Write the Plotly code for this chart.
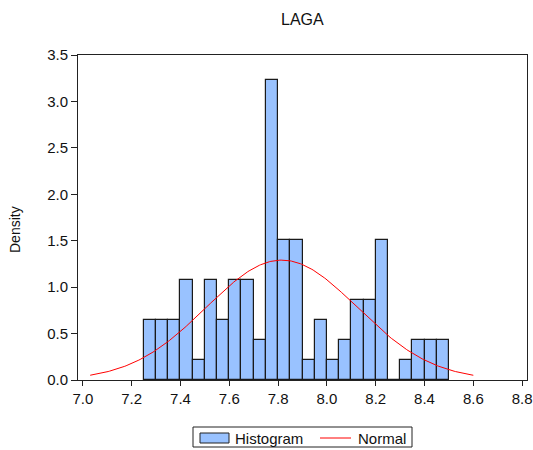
import numpy as np
import plotly.graph_objects as go

# Histogram bins (width 0.05) and observation counts per bin
bin_width = 0.05
bin_left = [7.25, 7.30, 7.35, 7.40, 7.45, 7.50, 7.55, 7.60, 7.65, 7.70,
            7.75, 7.80, 7.85, 7.90, 7.95, 8.00, 8.05, 8.10, 8.15, 8.20,
            8.25, 8.30, 8.35, 8.40, 8.45]
counts = [3, 3, 3, 5, 1, 5, 3, 5, 5, 2,
          15, 7, 7, 1, 3, 1, 2, 4, 4, 7,
          0, 1, 2, 2, 2]

# Fitted normal density parameters
norm_mean = 7.815
norm_sd = 0.309
norm_range = (7.03, 8.60)

x_ticks = [7.0, 7.2, 7.4, 7.6, 7.8, 8.0, 8.2, 8.4, 8.6, 8.8]
y_ticks = [0.0, 0.5, 1.0, 1.5, 2.0, 2.5, 3.0, 3.5]

BAR_COLOR = "rgb(153,194,255)"
LINE_COLOR = "#ff0000"
INK = "#111111"
FAMILY = "Liberation Sans, Arial, sans-serif"

n_obs = sum(counts)
centers = [b + bin_width / 2 for b in bin_left]
density = [c / (n_obs * bin_width) for c in counts]

xs = np.linspace(norm_range[0], norm_range[1], 300)
pdf = np.exp(-0.5 * ((xs - norm_mean) / norm_sd) ** 2) / (norm_sd * np.sqrt(2 * np.pi))

W, H = 533, 450
ML, MR, MT, MB = 78, 6, 55, 70
PW, PH = W - ML - MR, H - MT - MB


def px(x):
    """Pixel column -> paper x."""
    return (x - ML) / PW


def py(y):
    """Pixel row -> paper y."""
    return (H - MB - y) / PH


fig = go.Figure()
fig.add_trace(go.Bar(
    x=centers, y=density, width=bin_width, name="Histogram",
    marker=dict(color=BAR_COLOR, line=dict(color="#1a1a1a", width=1.2)),
    showlegend=False,
))
fig.add_trace(go.Scatter(
    x=xs, y=pdf, mode="lines", name="Normal",
    line=dict(color=LINE_COLOR, width=1), showlegend=False,
))

# Boxed legend below the plot
shapes = [
    dict(type="rect", xref="paper", yref="paper", x0=px(193), x1=px(412), y0=py(447), y1=py(427),
         line=dict(color="#222222", width=1), fillcolor="white", layer="above"),
    dict(type="rect", xref="paper", yref="paper", x0=px(200), x1=px(229), y0=py(443), y1=py(433),
         line=dict(color="#222222", width=1), fillcolor=BAR_COLOR, layer="above"),
    dict(type="line", xref="paper", yref="paper", x0=px(320), x1=px(351), y0=py(438), y1=py(438),
         line=dict(color=LINE_COLOR, width=1), layer="above"),
]
annotations = [
    dict(text="Histogram", xref="paper", yref="paper", x=px(233), y=py(438), xanchor="left",
         yanchor="middle", showarrow=False, font=dict(size=15, family=FAMILY, color=INK)),
    dict(text="Normal", xref="paper", yref="paper", x=px(356), y=py(438), xanchor="left",
         yanchor="middle", showarrow=False, font=dict(size=15, family=FAMILY, color=INK)),
    dict(text="Density", xref="paper", yref="paper", x=px(15), y=py(230), xanchor="center",
         yanchor="middle", textangle=-90, showarrow=False,
         font=dict(size=14, family=FAMILY, color=INK)),
    dict(text="LAGA", xref="paper", yref="paper", x=px(302), y=py(20), xanchor="center",
         yanchor="middle", showarrow=False, font=dict(size=16, family=FAMILY, color=INK)),
]

fig.update_layout(
    width=W, height=H,
    margin=dict(l=ML, r=MR, t=MT, b=MB, autoexpand=False),
    paper_bgcolor="white", plot_bgcolor="white",
    font=dict(family=FAMILY, size=15, color=INK),
    bargap=0,
    showlegend=False,
    shapes=shapes,
    annotations=annotations,
)
fig.update_xaxes(
    range=[6.98, 8.82], tickvals=x_ticks, ticktext=[f"{v:.1f}" for v in x_ticks],
    ticks="outside", ticklen=5, tickcolor="#222222", showgrid=False, zeroline=False,
    showline=True, linecolor="#222222", linewidth=1, mirror=True,
    tickfont=dict(size=15),
)
fig.update_yaxes(
    range=[0, 3.5], tickvals=y_ticks, ticktext=[f"{v:.1f}" for v in y_ticks],
    ticks="outside", ticklen=6, tickcolor="#222222", showgrid=False, zeroline=False,
    showline=True, linecolor="#222222", linewidth=1, mirror=True,
    tickfont=dict(size=15),
)

fig.write_html("out.html")
